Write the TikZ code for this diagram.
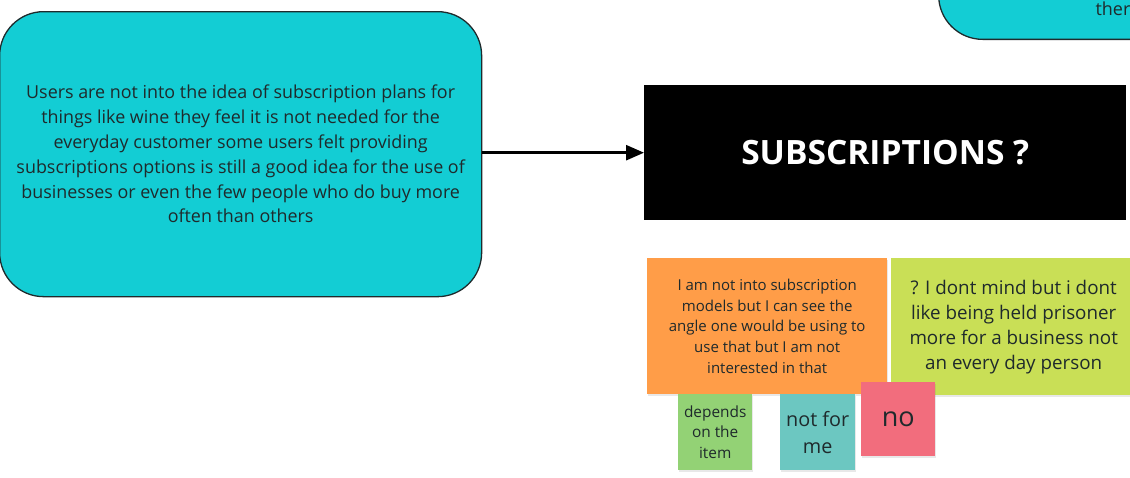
\documentclass[tikz,border=0pt]{standalone}
\usepackage{fontspec}
\setmainfont{Open Sans}
\usetikzlibrary{arrows.meta,shadows}
\definecolor{boxcyan}{HTML}{13CDD4}
\definecolor{sorange}{HTML}{FF9D48}
\definecolor{slime}{HTML}{C9DF56}
\definecolor{sgreen}{HTML}{93D275}
\definecolor{steal}{HTML}{6CC7C1}
\definecolor{spink}{HTML}{F26D7D}
\definecolor{inktext}{HTML}{1F2A2C}
\begin{document}
\begin{tikzpicture}[x=1pt,y=-1pt,
  bubble/.style={draw=inktext,line width=1.3pt,fill=boxcyan,rounded corners=44pt,
    text=inktext,align=center,inner sep=0pt},
  sticky/.style={fill=#1,text=inktext,align=center,inner sep=0pt,
    drop shadow={shadow xshift=1pt,shadow yshift=-1.5pt,opacity=0.18}},
  flow/.style={line width=2.6pt,-{Triangle[length=18pt,width=15pt]}}]
\useasboundingbox (0,0) rectangle (1130,477);
\begin{scope}
\clip (0,0) rectangle (1130,477);
% partially visible bubble at the top right
\node[bubble,minimum width=260pt,minimum height=120pt,anchor=south west] (top) at (938,40) {};
\node[text=inktext,font=\fontsize{18}{22}\selectfont,anchor=base west] (toptxt) at (1092,15) {ther};
% main finding
\node[bubble,minimum width=482pt,minimum height=285pt,anchor=north west,
  font=\fontsize{17.9}{24.8}\selectfont] (finding) at (-1,11)
  {Users are not into the idea of subscription plans for\\
   things like wine they feel it is not needed for the\\
   everyday customer some users felt providing\\
   subscriptions options is still a good idea for the use of\\
   businesses or even the few people who do buy more\\
   often than others};
% topic header
\node[fill=black,text=white,minimum width=482pt,minimum height=135pt,anchor=north west,
  inner sep=0pt,font=\bfseries\fontsize{33.5}{38}\selectfont] (topic) at (644,85) {SUBSCRIPTIONS ?};
\draw[flow] (finding.east |- topic.west) -- (topic.west);
% sticky notes
\node[sticky=sorange,minimum width=240pt,minimum height=136pt,anchor=north west,
  font=\fontsize{15}{20.7}\selectfont] (n1) at (647,258)
  {I am not into subscription\\ models but I can see the\\ angle one would be using to\\ use that but I am not\\ interested in that};
\node[sticky=slime,minimum width=245pt,minimum height=137pt,anchor=north west,
  font=\fontsize{18.8}{25}\selectfont] (n2) at (891,258)
  {? I dont mind but i dont\\ like being held prisoner\\ more for a business not\\ an every day person};
\node[sticky=sgreen,minimum width=74pt,minimum height=76pt,anchor=north west,
  font=\fontsize{15.4}{20.7}\selectfont] (n3) at (678,394)
  {depends\\ on the\\ item};
\node[sticky=steal,minimum width=75pt,minimum height=76pt,anchor=north west,
  font=\fontsize{19.8}{27}\selectfont] (n4) at (780,394)
  {not for\\ me};
\node[sticky=spink,minimum width=74pt,minimum height=74pt,anchor=north west,
  font=\fontsize{27}{30}\selectfont] (n5) at (861,382)
  {no};
\end{scope}
\end{tikzpicture}
\end{document}
